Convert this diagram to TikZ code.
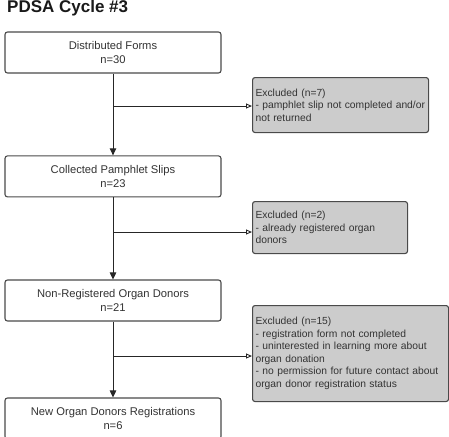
\documentclass[tikz,border=0pt]{standalone}
\usepackage{fontspec}
\setmainfont{Liberation Sans}
\usetikzlibrary{arrows.meta}
\definecolor{bordergray}{HTML}{4A4A4A}
\definecolor{exclfill}{HTML}{CCCCCC}
\definecolor{txtgray}{HTML}{333333}
\tikzset{
  mainbox/.style={draw=bordergray, line width=1.1pt, rounded corners=2.5pt, fill=white,
    minimum width=216pt, minimum height=41pt, align=center, inner sep=0pt,
    text=txtgray, font=\fontsize{11.2}{14}\selectfont},
  exclbox/.style={draw=bordergray, line width=1.1pt, rounded corners=2.5pt, fill=exclfill,
    anchor=north west, align=left, inner xsep=3pt, inner ysep=0pt,
    text=txtgray, font=\fontsize{10.3}{12.5}\selectfont},
  downarr/.style={draw=black!85, line width=0.9pt, -{Triangle[width=6.5pt,length=7pt]}},
  sidearr/.style={draw=black!85, line width=0.9pt, -{Triangle[open,width=5pt,length=6pt,fill=white]}},
}
\begin{document}
\begin{tikzpicture}[x=1pt,y=1pt]
\useasboundingbox (0,0) rectangle (449,-436);
\node[anchor=base west, inner sep=0pt, font=\fontsize{17}{20}\selectfont\bfseries, text=black!90] (title) at (7,-12.7) {PDSA Cycle \#3};

\node[mainbox] (b1) at (113,-52.5) {Distributed Forms\\n=30};
\node[mainbox] (b2) at (113,-176.4) {Collected Pamphlet Slips\\n=23};
\node[mainbox] (b3) at (113,-300.5) {Non-Registered Organ Donors\\n=21};
\node[mainbox] (b4) at (113,-418.5) {New Organ Donors Registrations\\n=6};

\node[exclbox, text width=170pt, minimum height=55pt] (e1) at (252,-77) {Excluded (n=7)\\- pamphlet slip not completed and/or\\not returned};
\node[exclbox, text width=149pt, minimum height=52pt] (e2) at (252,-201) {Excluded (n=2)\\- already registered organ\\donors};
\node[exclbox, text width=190pt, minimum height=96pt] (e3) at (252,-305) {Excluded (n=15)\\- registration form not completed\\- uninterested in learning more about\\organ donation\\- no permission for future contact about\\organ donor registration status};

\coordinate (j1) at (113,-106);
\coordinate (j2) at (113,-232);
\coordinate (j3) at (113,-356);

\draw[downarr] (b1.south) -- (b2.north);
\draw[downarr] (b2.south) -- (b3.north);
\draw[downarr] (b3.south) -- (b4.north);
\draw[sidearr] (j1) -- (e1.west |- j1);
\draw[sidearr] (j2) -- (e2.west |- j2);
\draw[sidearr] (j3) -- (e3.west |- j3);
\end{tikzpicture}
\end{document}
